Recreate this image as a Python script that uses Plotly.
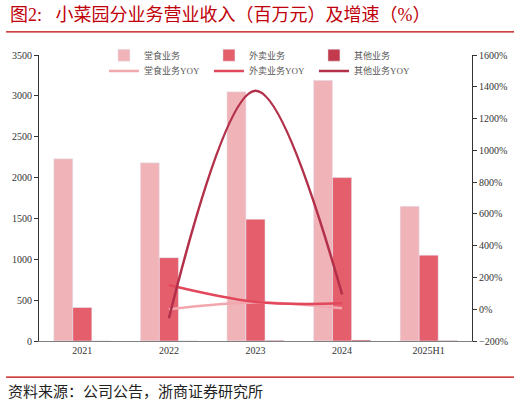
import plotly.graph_objects as go

# 小菜园分业务营业收入（百万元）及增速（%）
years = ["2021", "2022", "2023", "2024", "2025H1"]
dine_in = [2230, 2180, 3050, 3190, 1650]
delivery = [410, 1020, 1490, 2000, 1050]
other = [1, 1, 8, 12, 6]

yoy_years = ["2022", "2023", "2024"]
dine_in_yoy = [0, 42, 6]
delivery_yoy = [152, 46, 37]
other_yoy = [-57, 1375, 94]

FONT = "Liberation Serif, Noto Sans CJK SC, serif"
PINK = "#F0B3B8"
RED = "#E55E6C"
DARK = "#C23A4C"

fig = go.Figure()

# bars on the left axis (first legend row)
fig.add_trace(go.Bar(x=years, y=dine_in, name="堂食业务", marker_color=PINK))
fig.add_trace(go.Bar(x=years, y=delivery, name="外卖业务", marker_color=RED))
fig.add_trace(go.Bar(x=years, y=other, name="其他业务", marker_color=DARK))

# growth lines on the right axis (second legend row)
line_opts = dict(mode="lines", yaxis="y2", line_shape="spline", legend="legend2")
fig.add_trace(go.Scatter(x=yoy_years, y=dine_in_yoy, name="堂食业务YOY",
                         line=dict(color="#F2A7AF", width=2.5), **line_opts))
fig.add_trace(go.Scatter(x=yoy_years, y=delivery_yoy, name="外卖业务YOY",
                         line=dict(color="#E2485B", width=2.5), **line_opts))
fig.add_trace(go.Scatter(x=yoy_years, y=other_yoy, name="其他业务YOY",
                         line=dict(color="#B3304A", width=2.5), **line_opts))

legend_opts = dict(orientation="h", x=0.15, xanchor="left", yanchor="top",
                   entrywidth=60, font=dict(size=9, color="#555555"),
                   bgcolor="rgba(0,0,0,0)", itemwidth=30)

fig.update_layout(
    width=520, height=403,
    margin=dict(l=38, r=47, t=55, b=62),
    paper_bgcolor="white", plot_bgcolor="white",
    font=dict(family=FONT, size=10, color="#333333"),
    barmode="group", bargap=0.34, bargroupgap=0,
    legend=dict(y=1.05, **legend_opts),
    legend2=dict(y=0.995, **legend_opts),
    xaxis=dict(showline=True, linecolor="#808080", linewidth=1.2, ticks="",
               showgrid=False, tickfont=dict(size=10, color="#333333")),
    yaxis=dict(range=[0, 3500], dtick=500, showline=True, linecolor="#333333",
               linewidth=1, ticks="outside", ticklen=4, tickcolor="#333333",
               showgrid=False, zeroline=False),
    yaxis2=dict(range=[-200, 1600], dtick=200, overlaying="y", side="right",
                ticksuffix="%", showline=True, linecolor="#333333", linewidth=1,
                ticks="outside", ticklen=4, tickcolor="#333333",
                showgrid=False, zeroline=False),
)

# title, footer and the red rules
fig.add_annotation(text="图2:&nbsp;&nbsp;&nbsp;小菜园分业务营业收入（百万元）及增速（%）",
                   xref="paper", yref="paper", x=-0.072, y=1.14,
                   xanchor="left", yanchor="middle", showarrow=False,
                   font=dict(size=18, color="#C0000A"))
fig.add_annotation(text="资料来源：公司公告，浙商证券研究所",
                   xref="paper", yref="paper", x=-0.077, y=-0.178,
                   xanchor="left", yanchor="middle", showarrow=False,
                   font=dict(size=15, color="#222222"))
fig.add_shape(type="line", xref="paper", yref="paper", x0=-0.076, x1=1.097,
              y0=1.081, y1=1.081, line=dict(color="#C00000", width=1.2))
fig.add_shape(type="line", xref="paper", yref="paper", x0=-0.076, x1=1.097,
              y0=-0.126, y1=-0.126, line=dict(color="#C00000", width=1.2))

# drop the browser's default body margin so the figure sits at the page corner
fig.write_html("out.html", config={"displayModeBar": False},
               post_script="document.body.style.margin='0';")
